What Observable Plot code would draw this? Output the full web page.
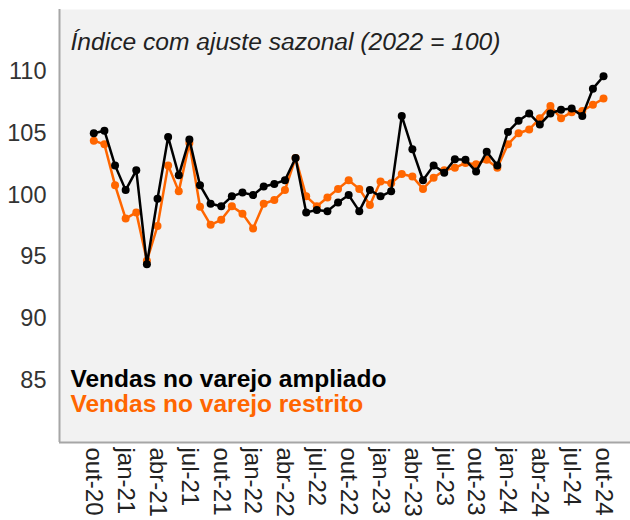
<!DOCTYPE html>
<html><head><meta charset="utf-8">
<script src="https://cdn.jsdelivr.net/npm/d3@7"></script>
<script src="https://cdn.jsdelivr.net/npm/@observablehq/plot@0.6"></script>
<style>body{margin:0;background:#fff;font-family:"Liberation Sans",Arial,sans-serif}</style>
</head><body><div id="chart"></div>
<script>
const tickLabels = ["out-20","jan-21","abr-21","jul-21","out-21","jan-22","abr-22","jul-22","out-22","jan-23","abr-23","jul-23","out-23","jan-24","abr-24","jul-24","out-24"];
const ampliado = [105.0,105.2,102.4,100.4,102.0,94.4,99.7,104.7,101.6,104.5,100.8,99.3,99.1,99.9,100.2,100.0,
  100.7,100.9,101.2,103.0,98.6,98.8,98.7,99.4,100.0,98.7,100.4,99.9,100.3,106.4,103.7,101.2,102.4,
  101.8,102.9,102.85,101.9,103.5,102.4,105.1,106.0,106.6,105.7,106.6,106.9,107.0,106.4,108.6,109.6];
const restrito = [104.4,104.1,100.8,98.1,98.6,94.7,97.5,102.4,100.3,104.2,99.05,97.6,98.0,99.1,98.5,97.3,
  99.3,99.6,100.4,103.0,99.9,99.1,99.8,100.5,101.2,100.5,99.2,101.1,100.95,101.7,101.5,100.5,101.4,
  102.0,102.2,102.6,102.5,102.85,102.2,104.1,105.0,105.3,106.2,107.2,106.2,106.7,106.8,107.3,107.8];
const yTicks = [85,90,95,100,105,110];
const title = "Índice com ajuste sazonal (2022 = 100)";
const legendAmp = "Vendas no varejo ampliado";
const legendRes = "Vendas no varejo restrito";

const rows = ampliado.map((v, i) => ({i, amp: v, res: restrito[i]}));
const xMin = -3.23, xMax = 50.54, yMin = 80, yMax = 115;
const font = "Liberation Sans, Arial, sans-serif";

const chart = Plot.plot({
  width: 630, height: 520,
  marginLeft: 59, marginRight: 0, marginTop: 9, marginBottom: 78,
  style: {fontFamily: font, background: "#fff"},
  x: {domain: [xMin, xMax]},
  y: {domain: [yMin, yMax]},
  marks: [
    Plot.frame({fill: "#f2f2f2", stroke: null}),
    Plot.ruleX([xMin], {stroke: "#a6a6a6", strokeWidth: 2}),
    Plot.ruleY([yMin], {stroke: "#a6a6a6", strokeWidth: 2}),
    Plot.axisY({ticks: yTicks, tickSize: 0, tickPadding: 13, fontSize: 23.5, fill: "#333", label: null}),
    Plot.axisX({ticks: tickLabels.map((_, k) => k * 3), tickFormat: d => tickLabels[d / 3], tickRotate: 90, tickSize: 0, tickPadding: 5, fontSize: 24, fill: "#222", label: null}),
    Plot.line(rows, {x: "i", y: "res", stroke: "#ff6600", strokeWidth: 2.5}),
    Plot.dot(rows, {x: "i", y: "res", fill: "#ff6600", r: 4}),
    Plot.line(rows, {x: "i", y: "amp", stroke: "#000", strokeWidth: 2.5}),
    Plot.dot(rows, {x: "i", y: "amp", fill: "#000", r: 4}),
    Plot.text([title], {frameAnchor: "top-left", dx: 11, dy: 23, textAnchor: "start", fontStyle: "italic", fontSize: 24.6, fill: "#222"}),
    Plot.text([legendAmp], {frameAnchor: "bottom-left", dx: 11, dy: -56, textAnchor: "start", fontWeight: "bold", fontSize: 24.5, fill: "#000"}),
    Plot.text([legendRes], {frameAnchor: "bottom-left", dx: 11, dy: -31, textAnchor: "start", fontWeight: "bold", fontSize: 24.5, fill: "#ff6600"})
  ]
});
document.getElementById("chart").appendChild(chart);
</script></body></html>
